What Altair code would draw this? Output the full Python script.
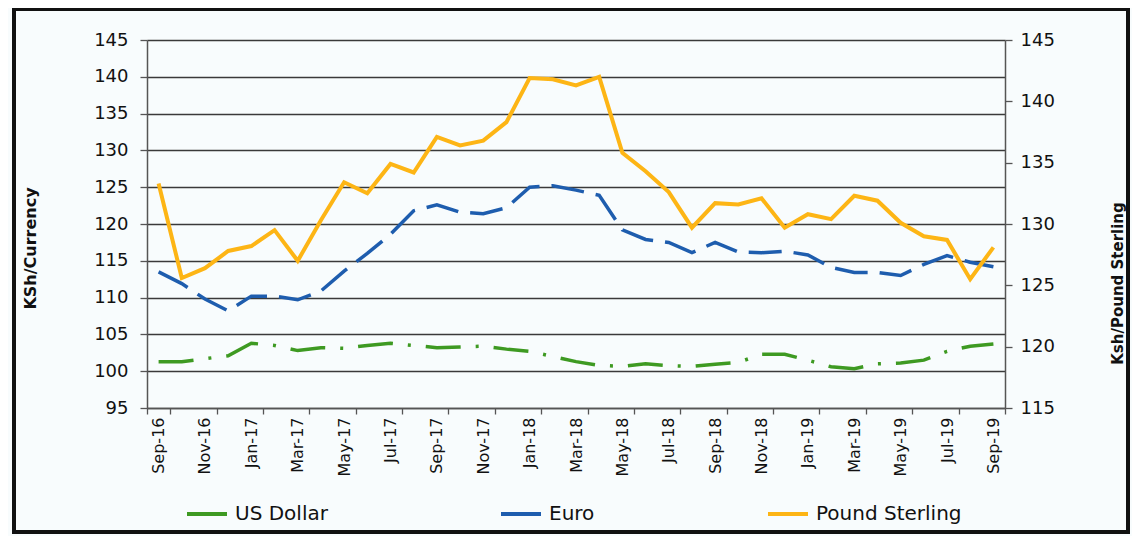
import altair as alt
import pandas as pd

months = ["Sep-16", "Oct-16", "Nov-16", "Dec-16", "Jan-17", "Feb-17", "Mar-17", "Apr-17",
          "May-17", "Jun-17", "Jul-17", "Aug-17", "Sep-17", "Oct-17", "Nov-17", "Dec-17",
          "Jan-18", "Feb-18", "Mar-18", "Apr-18", "May-18", "Jun-18", "Jul-18", "Aug-18",
          "Sep-18", "Oct-18", "Nov-18", "Dec-18", "Jan-19", "Feb-19", "Mar-19", "Apr-19",
          "May-19", "Jun-19", "Jul-19", "Aug-19", "Sep-19"]

usd = [101.3, 101.3, 101.7, 102.1, 103.8, 103.5, 102.8, 103.2, 103.1, 103.5, 103.8, 103.5,
       103.2, 103.3, 103.4, 103.0, 102.7, 102.0, 101.3, 100.8, 100.65, 101.0, 100.75, 100.65,
       100.95, 101.2, 102.3, 102.3, 101.5, 100.6, 100.35, 101.0, 101.1, 101.5, 102.7, 103.4,
       103.7]

eur = [113.5, 111.9, 109.8, 108.2, 110.2, 110.2, 109.7, 110.9, 113.6, 116.0, 118.6, 121.8,
       122.6, 121.6, 121.4, 122.2, 125.0, 125.2, 124.6, 123.9, 119.2, 117.9, 117.5, 116.1,
       117.5, 116.2, 116.1, 116.3, 115.8, 114.1, 113.4, 113.4, 113.0, 114.5, 115.7, 114.8,
       114.2]

gbp = [133.3, 125.6, 126.4, 127.8, 128.2, 129.5, 127.0, 130.3, 133.4, 132.5, 134.9, 134.2,
       137.1, 136.4, 136.8, 138.3, 141.9, 141.8, 141.3, 142.0, 135.8, 134.3, 132.6, 129.7,
       131.7, 131.6, 132.1, 129.7, 130.8, 130.4, 132.3, 131.9, 130.1, 129.0, 128.7, 125.5,
       128.1]

label_months = months[::2]
series = ["US Dollar", "Euro", "Pound Sterling"]
colors = ["#3E9A22", "#1E5DAE", "#FDB515"]
left_ticks = [95, 100, 105, 110, 115, 120, 125, 130, 135, 140, 145]
right_ticks = [115, 120, 125, 130, 135, 140, 145]

left_df = pd.DataFrame({
    "month": months + months,
    "currency": ["US Dollar"] * len(months) + ["Euro"] * len(months),
    "value": usd + eur,
})
right_df = pd.DataFrame({
    "month": months,
    "currency": ["Pound Sterling"] * len(months),
    "value": gbp,
})

FONT = "DejaVu Sans"

x_enc = alt.X(
    "month:O", sort=months, bandPosition=0.5, title=None,
    scale=alt.Scale(type="band", paddingInner=0, paddingOuter=0),
    axis=alt.Axis(values=label_months, labelAngle=270, tickBand="extent",
                  tickSize=6, labelPadding=3, labelFont=FONT, labelFontSize=16,
                  labelColor="#111", domainColor="#555", domainWidth=1.5,
                  tickColor="#555", tickWidth=1.3, grid=False),
)

color_enc = alt.Color(
    "currency:N",
    scale=alt.Scale(domain=series, range=colors),
    legend=alt.Legend(orient="none", legendX=38, legendY=452, direction="horizontal",
                      title=None, symbolType="stroke", symbolStrokeWidth=4,
                      symbolSize=1600, labelFont=FONT, labelFontSize=20,
                      labelColor="#111", labelOffset=6, columnPadding=165,
                      labelLimit=300),
)

left = alt.Chart(left_df).mark_line(strokeWidth=3.5).encode(
    x=x_enc,
    y=alt.Y("value:Q",
            scale=alt.Scale(domain=[95, 145], nice=False, zero=False),
            axis=alt.Axis(orient="left", values=left_ticks, title="KSh/Currency",
                          grid=True, gridColor="#3a3a3a", gridWidth=1.3,
                          tickSize=7, labelPadding=12, labelFont=FONT, labelFontSize=18,
                          labelColor="#111", domainColor="#555", domainWidth=1.5,
                          tickColor="#555", tickWidth=1.3,
                          titleFont=FONT, titleFontSize=16, titleFontWeight="bold",
                          titleColor="#111", titleX=-117, titleY=208,
                          titleAngle=270, titleAlign="center", titleBaseline="middle")),
    color=color_enc,
    strokeDash=alt.StrokeDash("currency:N",
                              scale=alt.Scale(domain=["US Dollar", "Euro"],
                                              range=[[35, 15, 3, 15], [33, 12]]),
                              legend=None),
)

right = alt.Chart(right_df).mark_line(strokeWidth=4).encode(
    x=x_enc,
    y=alt.Y("value:Q",
            scale=alt.Scale(domain=[115, 145], nice=False, zero=False),
            axis=alt.Axis(orient="right", values=right_ticks, title="Ksh/Pound Sterling",
                          grid=False, tickSize=7, labelPadding=8, labelFont=FONT,
                          labelFontSize=18, labelColor="#111", domainColor="#555",
                          domainWidth=1.5, tickColor="#555", tickWidth=1.3,
                          titleFont=FONT, titleFontSize=15, titleFontWeight="bold",
                          titleColor="#111", titleX=112, titleY=243,
                          titleAngle=270, titleAlign="center", titleBaseline="middle")),
    color=color_enc,
)

frame = alt.Chart(pd.DataFrame({"f": [0]})).mark_rect(
    fill="transparent", stroke="#111", strokeWidth=4
).encode(
    x=alt.value(-133), x2=alt.value(981), y=alt.value(-31), y2=alt.value(492)
)

chart = alt.layer(frame, left, right).resolve_scale(y="independent").properties(
    width=858, height=368,
    autosize=alt.AutoSizeParams(type="none"),
    padding={"left": 139, "top": 32, "right": 127, "bottom": 128},
    background="#F8FCFD",
).configure_view(stroke=None)

chart.save("out.html", embed_options={"renderer": "svg", "actions": False})
